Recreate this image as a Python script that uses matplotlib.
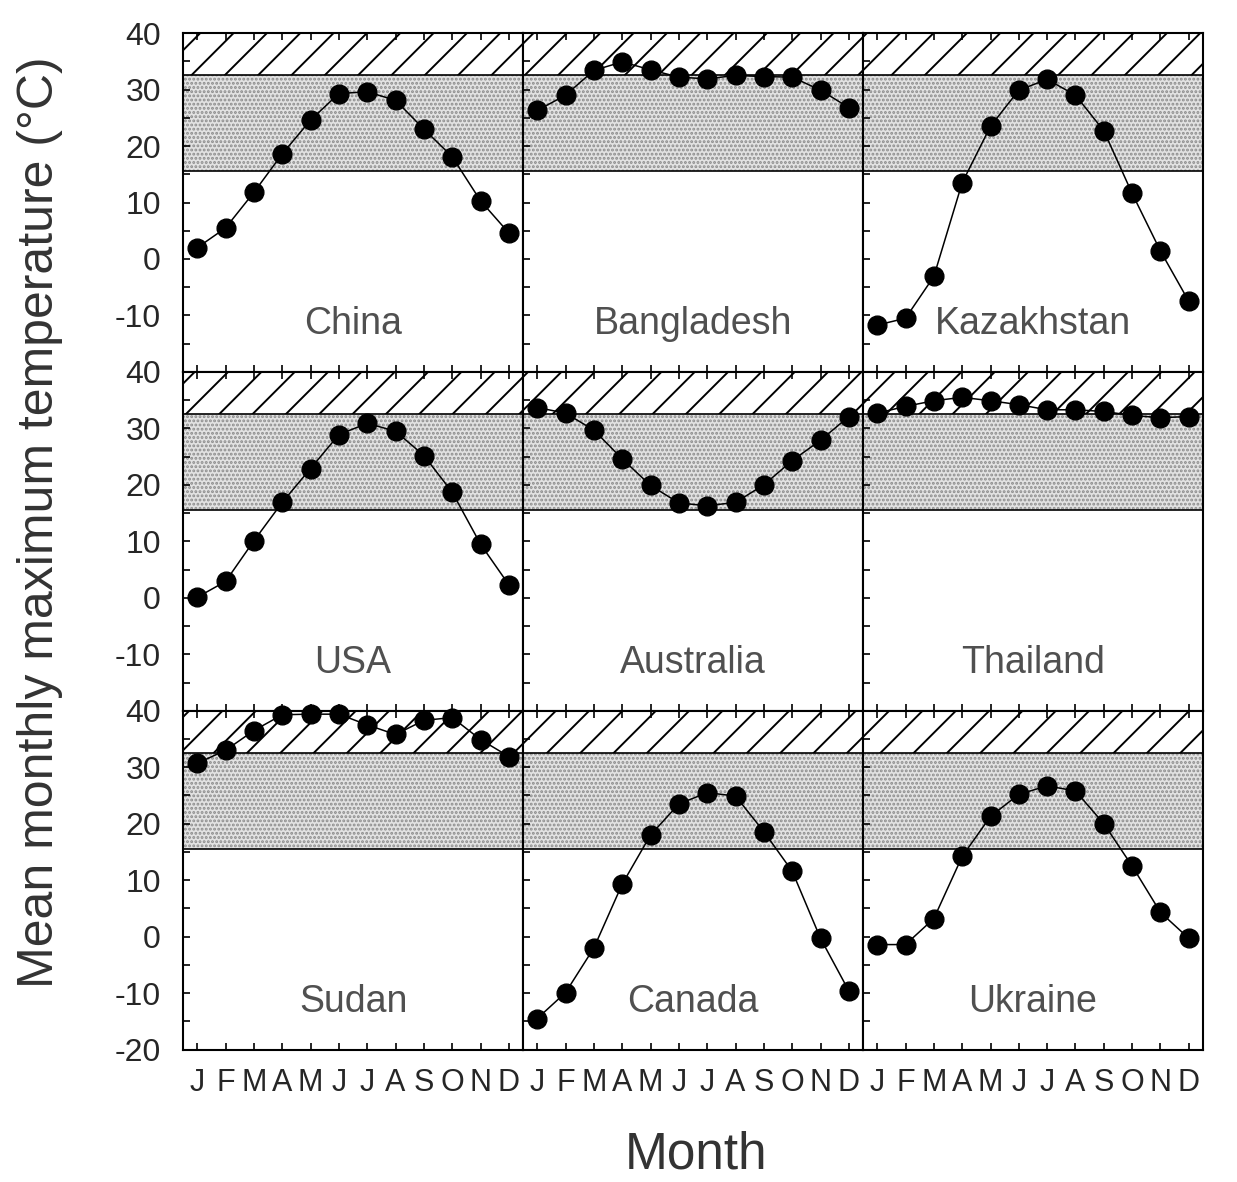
import matplotlib
matplotlib.use("Agg")
import matplotlib.pyplot as plt
from matplotlib.ticker import MultipleLocator

plt.rcParams["font.family"] = ["Liberation Sans", "DejaVu Sans"]
plt.rcParams["axes.unicode_minus"] = False
plt.rcParams["hatch.linewidth"] = 1.4

months = list(range(1, 13))
month_labels = ["J", "F", "M", "A", "M", "J", "J", "A", "S", "O", "N", "D"]

# mean monthly maximum temperature, deg C, Jan..Dec
china = [2.0, 5.5, 11.8, 18.6, 24.6, 29.3, 29.6, 28.1, 23.0, 18.1, 10.3, 4.6]
bangladesh = [26.3, 29.0, 33.4, 34.9, 33.5, 32.2, 31.9, 32.5, 32.3, 32.2, 29.9, 26.8]
kazakhstan = [-11.7, -10.5, -3.1, 13.5, 23.5, 29.9, 31.8, 29.0, 22.7, 11.6, 1.4, -7.5]
usa = [0.1, 2.9, 10.1, 16.9, 22.9, 28.9, 30.9, 29.5, 25.2, 18.7, 9.5, 2.3]
australia = [33.7, 32.7, 29.7, 24.6, 19.9, 16.8, 16.3, 16.9, 20.0, 24.3, 27.9, 32.1]
thailand = [32.7, 33.9, 34.9, 35.5, 34.9, 34.2, 33.3, 33.3, 33.0, 32.3, 31.9, 32.1]
sudan = [30.7, 33.0, 36.5, 39.3, 39.4, 39.4, 37.5, 35.8, 38.3, 38.8, 34.9, 31.9]
canada = [-14.5, -9.9, -2.0, 9.3, 18.0, 23.5, 25.5, 24.9, 18.6, 11.6, -0.3, -9.6]
ukraine = [-1.4, -1.4, 3.2, 14.2, 21.3, 25.2, 26.7, 25.8, 20.0, 12.5, 4.3, -0.3]

countries = ["China", "Bangladesh", "Kazakhstan",
             "USA", "Australia", "Thailand",
             "Sudan", "Canada", "Ukraine"]
series = [china, bangladesh, kazakhstan,
          usa, australia, thailand,
          sudan, canada, ukraine]

# temperature bands drawn behind every panel
optimum_band = (15.5, 32.5)
stress_band = (32.5, 40.0)

fig, axes = plt.subplots(3, 3, figsize=(12.37, 11.82), dpi=100)
fig.subplots_adjust(left=0.148, right=0.9725, top=0.972, bottom=0.112, hspace=0, wspace=0)

for idx, (ax, name, temps) in enumerate(zip(axes.flat, countries, series)):
    row, col = divmod(idx, 3)
    ax.axhspan(*optimum_band, facecolor="#e2e2e2", edgecolor="#8c8c8c", hatch="....", lw=0, zorder=0)
    ax.axhspan(*stress_band, facecolor="white", edgecolor="black", hatch="/", lw=0, zorder=0)
    for level in (optimum_band[0], stress_band[0]):
        ax.axhline(level, color="black", lw=1.2, zorder=1)
    ax.plot(months, temps, color="black", lw=1.1, marker="o", markersize=13.5,
            zorder=3, clip_on=False)
    ax.text(6.5, -11.5, name, ha="center", va="center", fontsize=27, color="#505050")

    ax.set_xlim(0.5, 12.5)
    ax.set_ylim(-20, 40)
    ax.set_xticks(months)
    ax.yaxis.set_major_locator(MultipleLocator(10))
    ax.yaxis.set_minor_locator(MultipleLocator(5))
    ax.tick_params(axis="both", which="both", direction="in", length=5, width=1.2,
                   top=True, right=False, colors="black", labelcolor="#262626")
    ax.tick_params(axis="y", labelsize=23, pad=16)
    ax.tick_params(axis="x", pad=13)

    if row == 2:
        ax.set_xticklabels(month_labels, fontsize=22)
    else:
        ax.set_xticklabels([])
    if col == 0:
        # the -20 of the upper rows would sit on the 40 of the row below
        shown = [-20, -10, 0, 10, 20, 30, 40] if row == 2 else [-10, 0, 10, 20, 30, 40]
        ax.set_yticks(shown)
        ax.set_yticks(range(-20, 41, 5), minor=True)
    else:
        ax.set_yticklabels([])
    ax.set_ylim(-20, 40)
    for spine in ax.spines.values():
        spine.set_linewidth(1.5)

fig.text(0.032, 0.558, "Mean monthly maximum temperature (°C)", rotation=90,
         ha="center", va="center", fontsize=36, color="#333333")
fig.text(0.563, 0.023, "Month", ha="center", va="center", fontsize=37, color="#333333")

fig.savefig("out.png", dpi=100)
